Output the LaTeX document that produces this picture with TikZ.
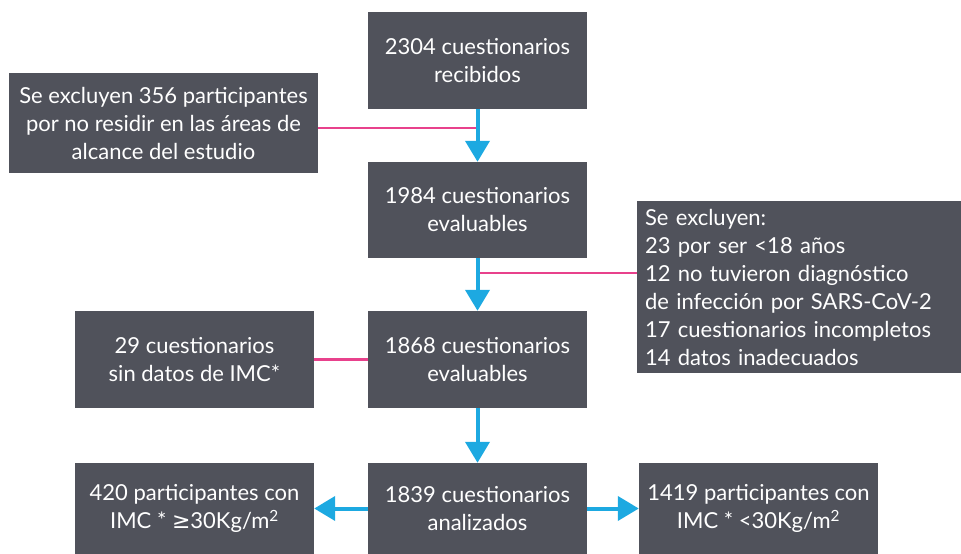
\documentclass[tikz,border=0pt]{standalone}
\usepackage{fontspec}
\setmainfont{Lato}
\newfontfamily\symbolfont{DejaVu Sans}
\usetikzlibrary{arrows.meta,positioning}

\definecolor{boxgray}{HTML}{50525B}
\definecolor{linkpink}{HTML}{E8418C}
\definecolor{flowblue}{HTML}{1DA9E1}

\begin{document}
\begin{tikzpicture}[x=1pt,y=-1pt,
    databox/.style={fill=boxgray,text=white,align=center,inner sep=0pt,font=\fontsize{22}{28}\selectfont},
    flowarrow/.style={draw=flowblue,line width=4pt,-{Triangle[width=24pt,length=21pt]}},
    exclusionline/.style={draw=linkpink,line width=2.5pt}]

\def\mainwidth{219}
\def\sidewidth{239}

\useasboundingbox (0,0) rectangle (961,554);

% main column
\node (recibidos) [databox,minimum width=\mainwidth,minimum height=97] at (477.5,60.5) {2304 cuestionarios\\recibidos};
\node (evaluablesA) [databox,minimum width=\mainwidth,minimum height=96] at (477.5,210) {1984 cuestionarios\\evaluables};
\node (evaluablesB) [databox,minimum width=\mainwidth,minimum height=97] at (477.5,359.5) {1868 cuestionarios\\evaluables};
\node (analizados) [databox,minimum width=\mainwidth,minimum height=91] at (477.5,508.5) {1839 cuestionarios\\analizados};

% exclusions
\node (noresiden) [databox,minimum width=309,minimum height=100] at (163.5,123) {Se excluyen 356 participantes\\por no residir en las áreas de\\alcance del estudio};
\node (excluidos) [databox,align=left,text width=308pt,inner xsep=8pt,minimum height=172] at (799,287) {Se excluyen:\\23 por ser <18 años\\12 no tuvieron diagnóstico\\de infección por SARS-CoV-2\\17 cuestionarios incompletos\\14 datos inadecuados};
\node (sinimc) [databox,minimum width=\sidewidth,minimum height=97] at (194.5,359.5) {29 cuestionarios\\sin datos de IMC*};

% results
\node (imcalto) [databox,minimum width=\sidewidth,minimum height=91] at (194.5,508.5) {420 participantes con\\IMC * {\symbolfont ≥}30Kg/m\textsuperscript{2}};
\node (imcbajo) [databox,minimum width=\sidewidth,minimum height=91] at (758.5,508.5) {1419 participantes con\\IMC * <30Kg/m\textsuperscript{2}};

\coordinate (joinA) at (477.5,128);
\coordinate (joinB) at (480,273);

\draw [exclusionline] (joinA -| noresiden.east) -- (joinA);
\draw [exclusionline] (joinB -| excluidos.west) -- (joinB);
\draw [exclusionline] (sinimc) -- (evaluablesB);

\draw [flowarrow] (recibidos) -- (evaluablesA);
\draw [flowarrow] (evaluablesA) -- (evaluablesB);
\draw [flowarrow] (evaluablesB) -- (analizados);
\draw [flowarrow] (analizados) -- (imcalto);
\draw [flowarrow] (analizados) -- (imcbajo);

\end{tikzpicture}
\end{document}
